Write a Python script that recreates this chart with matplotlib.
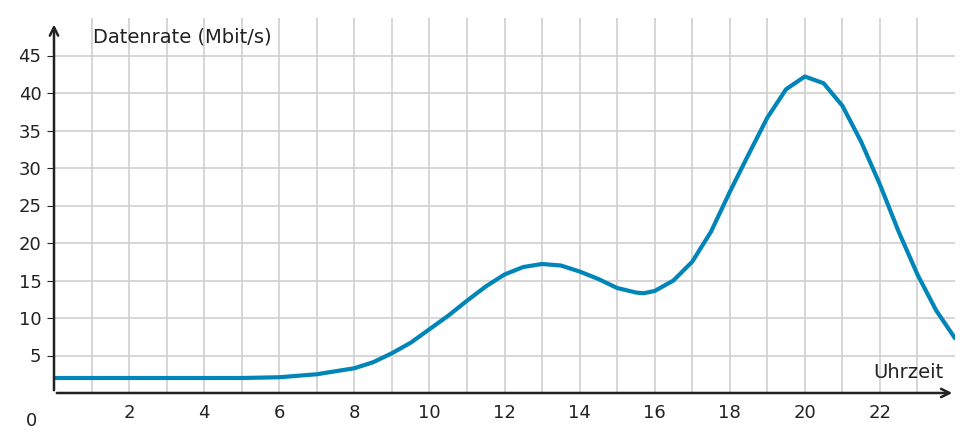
import matplotlib
matplotlib.use("Agg")
import matplotlib.pyplot as plt

hours = [0,1,2,3,4,5,6,7,8,8.5,9,9.5,10,10.5,11,11.5,12,12.5,13,13.5,14,14.5,15,15.5,15.7,16,16.5,17,17.5,18,18.5,19,19.5,20,20.5,21,21.5,22,22.5,23,23.5,24]
rate  = [2.0,2.0,2.0,2.0,2.0,2.0,2.1,2.5,3.3,4.1,5.3,6.7,8.5,10.3,12.3,14.2,15.8,16.8,17.2,17.0,16.2,15.2,14.0,13.4,13.3,13.6,15.0,17.5,21.5,26.8,31.8,36.7,40.5,42.2,41.3,38.3,33.5,27.8,21.5,15.8,11.0,7.3]
xticks = [2,4,6,8,10,12,14,16,18,20,22]
yticks = [5,10,15,20,25,30,35,40,45]

fig = plt.figure(figsize=(9.72,4.41), dpi=100)
ax = fig.add_axes([54/972, 1-393/441, 901/972, 375/441])
ax.set_xlim(0,24); ax.set_ylim(0,50)
for x in range(1,24):
    ax.axvline(x, color="#d0d0d0", lw=1.2, zorder=0)
for y in yticks:
    ax.axhline(y, color="#d0d0d0", lw=1.2, zorder=0)
ax.plot(hours, rate, color="#0085b8", lw=3, solid_capstyle="round", zorder=3)
for s in ax.spines.values(): s.set_visible(False)
ax.set_xticks(xticks); ax.set_yticks(yticks)
ax.tick_params(axis="x", length=0, labelsize=13, colors="#222222", pad=8)
ax.tick_params(axis="y", length=5, direction="out", labelsize=13, colors="#222222", pad=4)
ax.annotate("", xy=(24,0), xytext=(0,0), xycoords="data",
            arrowprops=dict(arrowstyle="->", color="#222222", lw=1.8, mutation_scale=15), annotation_clip=False)
ax.annotate("", xy=(0,49.5), xytext=(0,0), xycoords="data",
            arrowprops=dict(arrowstyle="->", color="#222222", lw=1.8, mutation_scale=15), annotation_clip=False)
ax.text(-0.45, -2.5, "0", ha="right", va="top", fontsize=13, color="#222222")
ax.text(1.05, 47.5, "Datenrate (Mbit/s)", fontsize=14, color="#222222", va="center")
ax.text(23.7, 2.8, "Uhrzeit", fontsize=14, color="#222222", ha="right", va="center")
fig.savefig("out.png", dpi=100)
